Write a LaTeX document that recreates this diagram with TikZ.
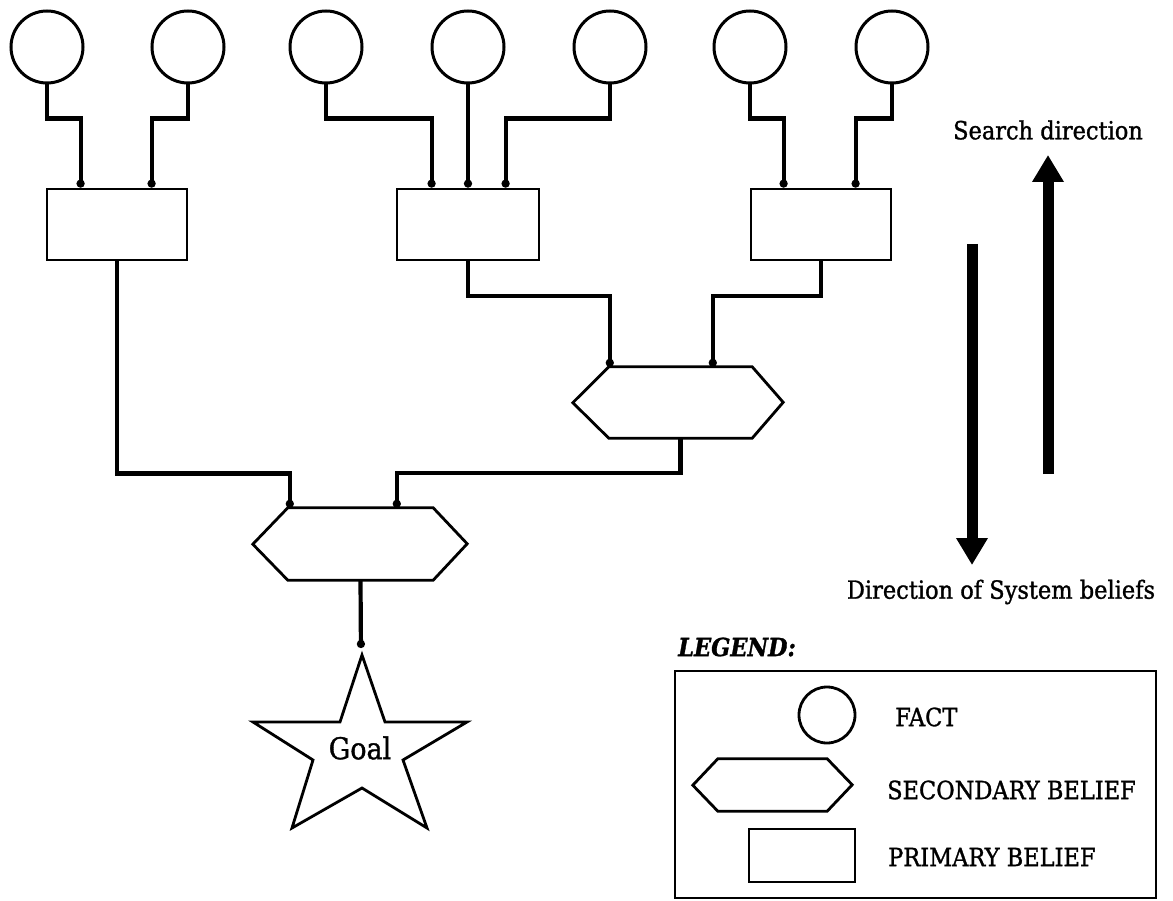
\documentclass[tikz,border=0pt]{standalone}
\usepackage{fontspec}
\setmainfont{DejaVu Serif}[FakeStretch=0.9,FakeBold=1.2]
\usetikzlibrary{arrows.meta}
\begin{document}
\begin{tikzpicture}[x=1pt,y=-1pt,
  fact/.style={circle,draw,line width=3pt,minimum size=72pt,inner sep=0pt},
  primary/.style={rectangle,draw,line width=2.8pt,minimum width=140pt,minimum height=71pt,inner sep=0pt},
  hexcore/.style={rectangle,draw=none,minimum height=71pt,inner sep=0pt},
  hexline/.style={line width=2.8pt,line join=miter},
  link/.style={line width=4.2pt,line join=miter,-{Circle[length=8pt,width=8pt]}},
  bigarrow/.style={line width=11pt,-{Triangle[width=30pt,length=27pt]}},
  lbl/.style={font=\fontsize{25pt}{30pt}\selectfont,inner sep=0pt}
]
\useasboundingbox (0,0) rectangle (1173,901);

% facts
\node[fact] (f1) at (47,47) {};
\node[fact] (f2) at (188,47) {};
\node[fact] (f3) at (326,47) {};
\node[fact] (f4) at (468,47) {};
\node[fact] (f5) at (610,47) {};
\node[fact] (f6) at (750,47) {};
\node[fact] (f7) at (892,47) {};

% primary beliefs
\node[primary] (p1) at (117,224.5) {};
\node[primary,minimum width=142pt] (p2) at (468,224.5) {};
\node[primary] (p3) at (821,224.5) {};

% secondary beliefs (hexagons: rectangular core + pointed ends)
\node[hexcore,minimum width=143pt] (s1) at (680.5,402.5) {};
\draw[hexline] (s1.north west) -- (s1.north east) -- ++(31,35.5) -- (s1.south east)
  -- (s1.south west) -- ++(-36,-35.5) -- cycle;
\node[hexcore,minimum width=145pt,minimum height=72pt] (s2) at (360.5,544) {};
\draw[hexline] (s2.north west) -- (s2.north east) -- ++(34,36) -- (s2.south east)
  -- (s2.south west) -- ++(-35,-36) -- cycle;

% goal star
\draw[hexline] (362,655) -- (385,722) -- (467,722) -- (403,760) -- (427,828)
  -- (362,788) -- (292,828) -- (313,760) -- (253,722) -- (340,722) -- cycle;
\coordinate (goaltop) at (361,655);
\node[font=\fontsize{30pt}{36pt}\selectfont,inner sep=0pt] (goal) at (360,748) {Goal};

% facts to primary beliefs
\draw[link] (f1.south) -- ++(0,34) -| ([xshift=35pt]p1.north west);
\draw[link] (f2.south) -- ++(0,34) -| ([xshift=106pt]p1.north west);
\draw[link] (f3.south) -- ++(0,34) -| ([xshift=36pt]p2.north west);
\draw[link] (f4.south) -- (p2.north);
\draw[link] (f5.south) -- ++(0,34) -| ([xshift=110pt]p2.north west);
\draw[link] (f6.south) -- ++(0,34) -| ([xshift=34pt]p3.north west);
\draw[link] (f7.south) -- ++(0,34) -| ([xshift=106pt]p3.north west);

% primary to secondary beliefs
\draw[link] (p2.south) -- ++(0,34.5) -| ([xshift=1pt]s1.north west);
\draw[link] (p3.south) -- ++(0,34.5) -| ([xshift=104pt]s1.north west);
\draw[link] (p1.south) -- ++(0,212) -| ([xshift=2pt]s2.north west);
\draw[link] (s1.south) -- ++(0,35) -| ([xshift=109pt]s2.north west);

% secondary belief to goal
\draw[link,shorten >=7pt] (s2.south) -- (goaltop);

% direction arrows
\coordinate (dtop) at (972,244);
\coordinate (dbot) at (972,565);
\coordinate (ubot) at (1048,474);
\coordinate (utop) at (1048,155);
\draw[bigarrow] (dtop) -- (dbot);
\draw[bigarrow] (ubot) -- (utop);
\node[lbl] (searchlbl) at (1048,130) {Search direction};
\node[lbl] (beliefslbl) at (1001,592) {Direction of System beliefs};

% legend
\node[lbl,anchor=west,font=\fontsize{25pt}{30pt}\selectfont\bfseries\itshape] (legendlbl) at (678,647) {LEGEND:};
\node[rectangle,draw,line width=2.2pt,minimum width=481pt,minimum height=227pt,inner sep=0pt] (legend) at (915.5,784.5) {};
\node[circle,draw,line width=2.8pt,minimum size=56pt,inner sep=0pt] (lfact) at (827,715) {};
\node[hexcore,minimum width=109pt,minimum height=52pt] (lsec) at (772.5,785) {};
\draw[hexline] (lsec.north west) -- (lsec.north east) -- ++(25,26) -- (lsec.south east)
  -- (lsec.south west) -- ++(-25,-26) -- cycle;
\node[rectangle,draw,line width=2.8pt,minimum width=106pt,minimum height=53pt,inner sep=0pt] (lprim) at (802,855.5) {};
\node[lbl,anchor=west] (tfact) at (895,717) {FACT};
\node[lbl,anchor=west] (tsec) at (887,790) {SECONDARY BELIEF};
\node[lbl,anchor=west] (tprim) at (888,857) {PRIMARY BELIEF};
\end{tikzpicture}
\end{document}
